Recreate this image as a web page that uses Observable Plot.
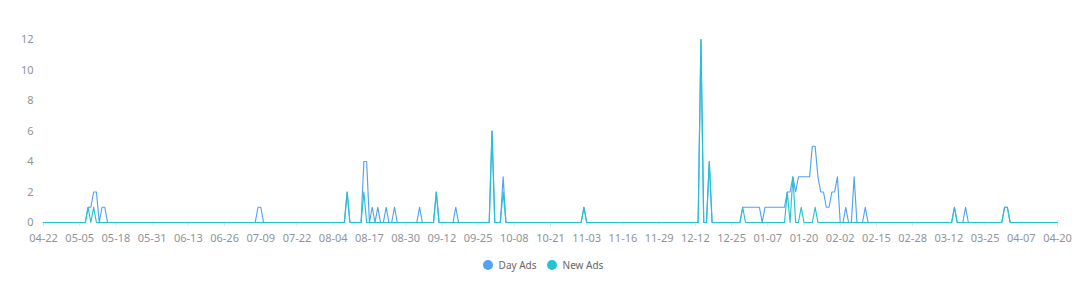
<!DOCTYPE html>
<html>
<head>
<meta charset="utf-8">
<script src="https://cdn.jsdelivr.net/npm/d3@7"></script>
<script src="https://cdn.jsdelivr.net/npm/@observablehq/plot@0.6"></script>
<style>
  html, body { margin: 0; padding: 0; background: #fff; }
  #chart svg { display: block; }
  .legend { height: 44px; display: flex; justify-content: center; align-items: flex-start; padding-top: 8px; box-sizing: border-box;
    font: 10px "Noto Sans", sans-serif; color: #666; gap: 10px; padding-left: 6px; }
  .legend span.item { display: inline-flex; align-items: center; gap: 6px; }
  .legend i { display: inline-block; width: 10px; height: 10px; border-radius: 50%; }
</style>
</head>
<body>
<div id="chart"></div>
<div class="legend" id="legend"></div>
<script>
const startDate = "2023-04-22";
const endDate = "2024-04-20";
const seriesNames = ["Day Ads", "New Ads"];
const seriesColors = ["#52a2f2", "#22c4d0"];
const tickDates = ["2023-04-22","2023-05-05","2023-05-18","2023-05-31","2023-06-13","2023-06-26","2023-07-09","2023-07-22","2023-08-04","2023-08-17","2023-08-30","2023-09-12","2023-09-25","2023-10-08","2023-10-21","2023-11-03","2023-11-16","2023-11-29","2023-12-12","2023-12-25","2024-01-07","2024-01-20","2024-02-02","2024-02-15","2024-02-28","2024-03-12","2024-03-25","2024-04-07","2024-04-20"];
const yTicks = [0, 2, 4, 6, 8, 10, 12];

// daily values, one per day from startDate to endDate (rows of 10)
const dayAds = [
  0,0,0,0,0,0,0,0,0,0,
  0,0,0,0,0,0,1,1,2,2,
  0,1,1,0,0,0,0,0,0,0,
  0,0,0,0,0,0,0,0,0,0,
  0,0,0,0,0,0,0,0,0,0,
  0,0,0,0,0,0,0,0,0,0,
  0,0,0,0,0,0,0,0,0,0,
  0,0,0,0,0,0,0,1,1,0,
  0,0,0,0,0,0,0,0,0,0,
  0,0,0,0,0,0,0,0,0,0,
  0,0,0,0,0,0,0,0,0,2,
  0,0,0,0,0,4,4,0,1,0,
  1,0,0,1,0,0,1,0,0,0,
  0,0,0,0,0,1,0,0,0,0,
  0,2,0,0,0,0,0,0,1,0,
  0,0,0,0,0,0,0,0,0,0,
  0,6,0,0,0,3,0,0,0,0,
  0,0,0,0,0,0,0,0,0,0,
  0,0,0,0,0,0,0,0,0,0,
  0,0,0,0,1,0,0,0,0,0,
  0,0,0,0,0,0,0,0,0,0,
  0,0,0,0,0,0,0,0,0,0,
  0,0,0,0,0,0,0,0,0,0,
  0,0,0,0,0,0,12,0,0,4,
  0,0,0,0,0,0,0,0,0,0,
  0,1,1,1,1,1,1,1,0,1,
  1,1,1,1,1,1,1,2,2,3,
  2,3,3,3,3,3,5,5,3,2,
  2,1,1,2,2,3,0,0,1,0,
  0,3,0,0,0,1,0,0,0,0,
  0,0,0,0,0,0,0,0,0,0,
  0,0,0,0,0,0,0,0,0,0,
  0,0,0,0,0,0,0,1,0,0,
  0,1,0,0,0,0,0,0,0,0,
  0,0,0,0,0,1,1,0,0,0,
  0,0,0,0,0,0,0,0,0,0,
  0,0,0,0,0
];
const newAds = [
  0,0,0,0,0,0,0,0,0,0,
  0,0,0,0,0,0,1,0,1,0,
  0,0,0,0,0,0,0,0,0,0,
  0,0,0,0,0,0,0,0,0,0,
  0,0,0,0,0,0,0,0,0,0,
  0,0,0,0,0,0,0,0,0,0,
  0,0,0,0,0,0,0,0,0,0,
  0,0,0,0,0,0,0,0,0,0,
  0,0,0,0,0,0,0,0,0,0,
  0,0,0,0,0,0,0,0,0,0,
  0,0,0,0,0,0,0,0,0,2,
  0,0,0,0,0,2,0,0,0,0,
  0,0,0,0,0,0,0,0,0,0,
  0,0,0,0,0,0,0,0,0,0,
  0,2,0,0,0,0,0,0,0,0,
  0,0,0,0,0,0,0,0,0,0,
  0,6,0,0,0,2,0,0,0,0,
  0,0,0,0,0,0,0,0,0,0,
  0,0,0,0,0,0,0,0,0,0,
  0,0,0,0,1,0,0,0,0,0,
  0,0,0,0,0,0,0,0,0,0,
  0,0,0,0,0,0,0,0,0,0,
  0,0,0,0,0,0,0,0,0,0,
  0,0,0,0,0,0,12,0,0,4,
  0,0,0,0,0,0,0,0,0,0,
  0,1,0,0,0,0,0,0,0,0,
  0,0,0,0,0,0,0,2,0,3,
  0,0,1,0,0,0,0,1,0,0,
  0,0,0,0,0,0,0,0,0,0,
  0,0,0,0,0,0,0,0,0,0,
  0,0,0,0,0,0,0,0,0,0,
  0,0,0,0,0,0,0,0,0,0,
  0,0,0,0,0,0,0,1,0,0,
  0,0,0,0,0,0,0,0,0,0,
  0,0,0,0,0,1,1,0,0,0,
  0,0,0,0,0,0,0,0,0,0,
  0,0,0,0,0
];

const parse = d3.utcParse("%Y-%m-%d");
const days = d3.utcDay.range(parse(startDate), d3.utcDay.offset(parse(endDate), 1));
const rows = [];
[dayAds, newAds].forEach((vals, s) => {
  days.forEach((date, i) => rows.push({date, value: vals[i], series: seriesNames[s]}));
});

const font = '"Noto Sans", sans-serif';
const chart = Plot.plot({
  width: 1080,
  height: 250,
  marginLeft: 43,
  marginRight: 23,
  marginTop: 39,
  marginBottom: 28,
  style: {fontFamily: font, fontSize: "11px", background: "#fff"},
  x: {type: "utc", domain: [parse(startDate), parse(endDate)]},
  y: {domain: [0, 12]},
  color: {domain: seriesNames, range: seriesColors},
  marks: [
    Plot.axisY({ticks: yTicks, tickSize: 0, tickPadding: 10, label: null, fill: "#909399", fontSize: 11}),
    Plot.axisX({ticks: tickDates.map(parse), tickSize: 4, tickFormat: () => "", stroke: "#e0e0e0", label: null}),
    Plot.axisX({ticks: tickDates.map(parse), tickSize: 0, tickPadding: 12, tickFormat: d3.utcFormat("%m-%d"), fill: "#909399", label: null, fontSize: 11}),
    Plot.lineY(rows, {x: "date", y: "value", z: "series", stroke: "series", strokeWidth: 1.15, curve: "linear"})
  ]
});
document.getElementById("chart").appendChild(chart);

const legend = document.getElementById("legend");
seriesNames.forEach((name, i) => {
  const item = document.createElement("span");
  item.className = "item";
  const dot = document.createElement("i");
  dot.style.background = seriesColors[i];
  item.appendChild(dot);
  item.appendChild(document.createTextNode(name));
  legend.appendChild(item);
});
</script>
</body>
</html>
